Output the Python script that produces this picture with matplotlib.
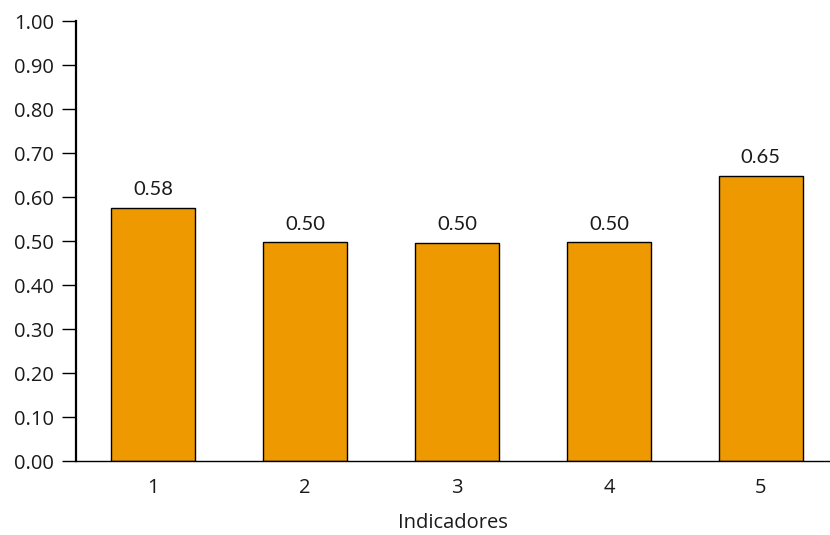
import matplotlib
matplotlib.use("Agg")
import matplotlib.pyplot as plt

categories = ["1", "2", "3", "4", "5"]
values = [0.576, 0.497, 0.496, 0.497, 0.648]
y_ticks = [0.0, 0.1, 0.2, 0.3, 0.4, 0.5, 0.6, 0.7, 0.8, 0.9, 1.0]

bar_color = "#EE9900"
text_color = "#1a1a1a"

fig = plt.figure(figsize=(8.3, 5.35), dpi=100)
ax = fig.add_axes([0.0916, 0.1383, 0.9084, 0.8224])

positions = list(range(1, len(categories) + 1))
bars = ax.bar(positions, values, width=0.55, color=bar_color,
              edgecolor="black", linewidth=1.0)

for b, v in zip(bars, values):
    ax.text(b.get_x() + b.get_width() / 2, v + 0.022, f"{v:.2f}",
            ha="center", va="bottom", fontsize=14.5, family="Lato",
            color=text_color)

ax.set_xlim(0.493, 5.455)
ax.set_ylim(0, 1.0)
ax.set_yticks(y_ticks)
ax.set_yticklabels([f"{t:.2f}" for t in y_ticks], family="Open Sans",
                   fontsize=14.5, color=text_color)
ax.set_xticks(positions)
ax.set_xticklabels(categories, family="Open Sans", fontsize=14.5,
                   color=text_color)
ax.tick_params(axis="x", length=0, pad=12)
ax.tick_params(axis="y", length=10, width=1.0, pad=6)

ax.set_xlabel("Indicadores", family="Open Sans", fontsize=14.5,
              color=text_color, labelpad=11)

for side in ("top", "right"):
    ax.spines[side].set_visible(False)
ax.spines["left"].set_linewidth(1.6)
ax.spines["bottom"].set_linewidth(1.0)

fig.savefig("out.png", dpi=100)
